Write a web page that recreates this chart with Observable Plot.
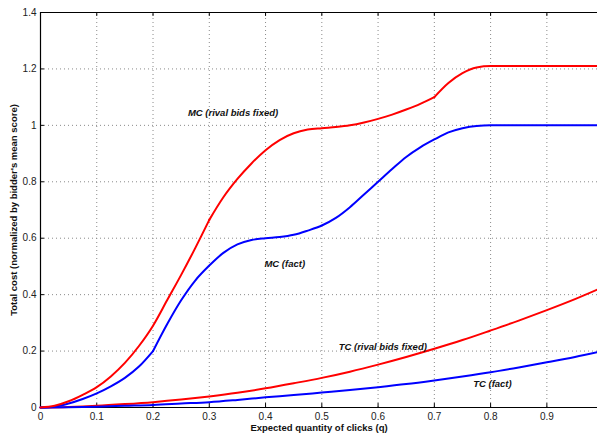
<!DOCTYPE html>
<html>
<head>
<meta charset="utf-8">
<script src="https://cdn.jsdelivr.net/npm/d3@7"></script>
<script src="https://cdn.jsdelivr.net/npm/@observablehq/plot@0.6"></script>
<style>
  body { margin: 0; background: #fff; }
  svg { font-family: "Liberation Sans", Arial, Helvetica, sans-serif; }
</style>
</head>
<body>
<div id="chart"></div>
<script>
// Expected quantity of clicks for the marginal-cost curves
const qMC = [0, 0.025, 0.05, 0.075, 0.1, 0.125, 0.15, 0.175, 0.2, 0.225, 0.25, 0.275,
  0.3, 0.325, 0.35, 0.375, 0.4, 0.425, 0.45, 0.475, 0.5, 0.525, 0.55, 0.575,
  0.6, 0.625, 0.65, 0.675, 0.7, 0.725, 0.75, 0.775, 0.8, 0.85, 0.9, 0.95, 0.99];

// Marginal cost, rival bids held fixed
const mcRival = [0, 0.006, 0.022, 0.045, 0.072, 0.11, 0.158, 0.218, 0.29, 0.38, 0.47, 0.565,
  0.665, 0.745, 0.81, 0.865, 0.912, 0.948, 0.972, 0.985, 0.99, 0.994, 1.0, 1.01,
  1.023, 1.038, 1.056, 1.076, 1.1, 1.15, 1.185, 1.205, 1.21, 1.21, 1.21, 1.21, 1.21];
const mcRivalKinks = [0.3, 0.7];

// Marginal cost, in fact
const mcFact = [0, 0.003, 0.014, 0.03, 0.05, 0.075, 0.105, 0.145, 0.2, 0.295, 0.38, 0.45,
  0.503, 0.548, 0.578, 0.594, 0.6, 0.604, 0.612, 0.627, 0.645, 0.672, 0.71, 0.755,
  0.8, 0.845, 0.888, 0.922, 0.95, 0.975, 0.99, 0.998, 1.0, 1.0, 1.0, 1.0, 1.0];
const mcFactKinks = [0.2];

// Expected quantity of clicks for the total-cost curves
const qTC = [0, 0.05, 0.1, 0.15, 0.2, 0.25, 0.3, 0.35, 0.4, 0.45, 0.5, 0.55,
  0.6, 0.65, 0.7, 0.75, 0.8, 0.85, 0.9, 0.95, 0.99];

// Total cost, rival bids held fixed
const tcRival = [0, 0.002, 0.006, 0.012, 0.019, 0.028, 0.039, 0.052, 0.068, 0.086, 0.105, 0.127,
  0.152, 0.179, 0.208, 0.239, 0.273, 0.308, 0.345, 0.384, 0.418];

// Total cost, in fact
const tcFact = [0, 0.001, 0.003, 0.006, 0.009, 0.014, 0.019, 0.027, 0.036, 0.044, 0.053, 0.062,
  0.072, 0.083, 0.096, 0.11, 0.125, 0.142, 0.16, 0.179, 0.196];

// Axis ticks
const xTicks = [0, 0.1, 0.2, 0.3, 0.4, 0.5, 0.6, 0.7, 0.8, 0.9];
const yTicks = [0, 0.2, 0.4, 0.6, 0.8, 1, 1.2, 1.4];
const xGrid = [0.1, 0.2, 0.3, 0.4, 0.5, 0.6, 0.7, 0.8, 0.9];
const yGrid = [0.2, 0.4, 0.6, 0.8, 1, 1.2];

// Curve annotations
const labelText = ["MC (rival bids fixed)", "MC (fact)", "TC (rival bids fixed)", "TC (fact)"];
const labelQ = [0.262, 0.398, 0.53, 0.769];
const labelY = [1.043, 0.509, 0.216, 0.084];

const xLabel = "Expected quantity of clicks (q)";
const yLabel = "Total cost (normalized by bidder's mean score)";

const RED = "#ff0000", BLUE = "#0000ff";
const xMax = 0.99, yMax = 1.4;

const toRows = (xs, ys) => xs.map((x, i) => ({x, y: ys[i], piece: 0}));

// Split a curve into smooth pieces at its kinks (the kink point is shared)
function pieces(xs, ys, kinks) {
  const rows = [];
  const bounds = [-Infinity, ...kinks, Infinity];
  for (let p = 0; p < bounds.length - 1; p++) {
    xs.forEach((x, i) => {
      if (x >= bounds[p] && x <= bounds[p + 1]) rows.push({x, y: ys[i], piece: p});
    });
  }
  return rows;
}

const labels = labelText.map((t, i) => ({t, x: labelQ[i], y: labelY[i]}));

// Inward tick lengths in data units (about 4px)
const tyLen = 0.014, txLen = 0.007;

const chart = Plot.plot({
  width: 597,
  height: 436,
  marginLeft: 40,
  marginRight: 0,
  marginTop: 12,
  marginBottom: 29,
  style: {background: "#fff", fontFamily: "'Liberation Sans', Arial, sans-serif"},
  x: {domain: [0, xMax]},
  y: {domain: [0, yMax]},
  marks: [
    // dotted grid
    Plot.ruleX(xGrid, {stroke: "#8a8a8a", strokeWidth: 1, strokeDasharray: "1,3", y1: 0, y2: yMax}),
    Plot.ruleY(yGrid, {stroke: "#8a8a8a", strokeWidth: 1, strokeDasharray: "1,3", x1: 0, x2: xMax}),
    // inward ticks along bottom, top and left
    Plot.ruleX(xTicks, {y1: 0, y2: tyLen, stroke: "#000"}),
    Plot.ruleX(xTicks, {y1: yMax - tyLen, y2: yMax, stroke: "#000"}),
    Plot.ruleY(yTicks, {x1: 0, x2: txLen, stroke: "#000"}),
    // frame lines
    Plot.ruleY([0], {stroke: "#000", strokeWidth: 1.2}),
    Plot.ruleY([yMax], {stroke: "#000", strokeWidth: 1.2}),
    Plot.ruleX([0], {stroke: "#000", strokeWidth: 1.2}),
    // curves
    Plot.line(toRows(qTC, tcRival), {x: "x", y: "y", stroke: RED, strokeWidth: 2, curve: "monotone-x"}),
    Plot.line(toRows(qTC, tcFact), {x: "x", y: "y", stroke: BLUE, strokeWidth: 2, curve: "monotone-x"}),
    Plot.line(pieces(qMC, mcFact, mcFactKinks), {x: "x", y: "y", z: "piece", stroke: BLUE,
      strokeWidth: 2, curve: "monotone-x"}),
    Plot.line(pieces(qMC, mcRival, mcRivalKinks), {x: "x", y: "y", z: "piece", stroke: RED,
      strokeWidth: 2, curve: "monotone-x"}),
    // annotations
    Plot.text(labels, {x: "x", y: "y", text: "t", textAnchor: "start", fontSize: 9.5,
      fontWeight: "bold", fontStyle: "italic", fill: "#111"}),
    // axes
    Plot.axisX(xTicks, {tickSize: 0, tickPadding: 5, fontSize: 10, fill: "#222", label: null,
      tickFormat: d => String(d)}),
    Plot.axisY(yTicks, {tickSize: 0, tickPadding: 4, fontSize: 10, fill: "#222", label: null,
      tickFormat: d => String(d)}),
    Plot.text([xLabel], {frameAnchor: "bottom", dy: 23, text: d => d, fontSize: 9.5,
      fontWeight: "bold", fill: "#111", textAnchor: "middle"}),
    Plot.text([yLabel], {frameAnchor: "left", dx: -27, rotate: -90, text: d => d, fontSize: 9.5,
      fontWeight: "bold", fill: "#111", textAnchor: "middle"})
  ]
});

document.getElementById("chart").appendChild(chart);
</script>
</body>
</html>
